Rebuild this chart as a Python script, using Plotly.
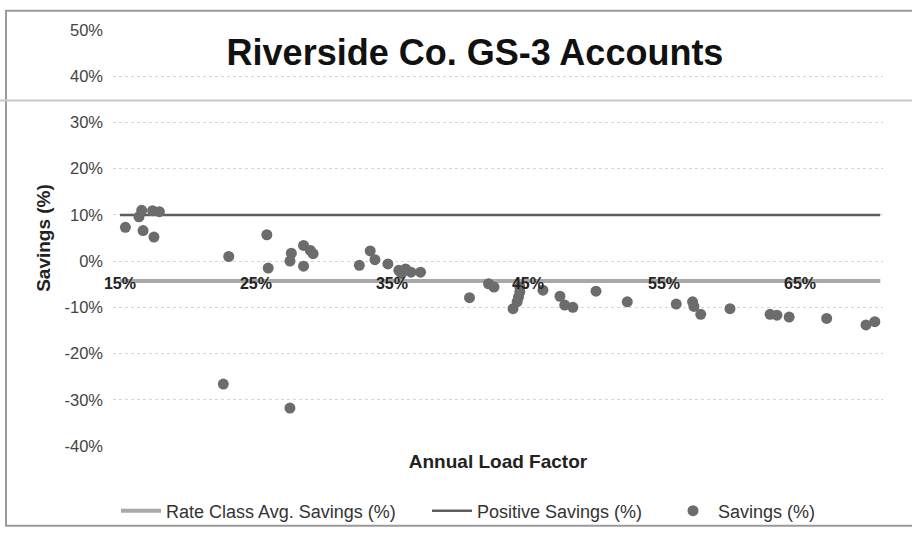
import plotly.graph_objects as go

# ---- data (percent values) ----
load_factor = [15.4, 16.4, 16.6, 16.7, 17.4, 17.5, 17.9,
               22.6, 23.0, 25.8, 25.9,
               27.5, 27.5, 27.6, 28.5, 28.5, 29.0, 29.2,
               32.6, 33.4, 33.75, 34.7,
               35.5, 35.7, 36.0, 36.4, 37.1,
               40.7, 42.1, 42.5,
               43.9, 44.2, 44.3, 44.4, 44.4,
               46.1, 47.35, 47.7, 48.3,
               50.0, 52.3, 55.9, 57.1, 57.2, 57.7,
               59.85, 62.8, 63.3, 64.2, 66.96, 69.85, 70.5]
savings = [7.3, 9.6, 11.0, 6.6, 10.9, 5.2, 10.7,
           -26.6, 1.0, 5.7, -1.5,
           0.0, -31.8, 1.7, -1.1, 3.4, 2.3, 1.6,
           -0.9, 2.2, 0.3, -0.6,
           -2.0, -2.7, -1.7, -2.4, -2.4,
           -7.9, -4.9, -5.6,
           -10.3, -8.8, -7.8, -6.7, -5.6,
           -6.3, -7.6, -9.5, -10.0,
           -6.5, -8.8, -9.3, -8.8, -9.8, -11.5,
           -10.3, -11.5, -11.7, -12.1, -12.4, -13.8, -13.1]

line_x = [15.0, 70.9]
rate_class_avg = [-4.3, -4.3]
positive_savings = [10.0, 10.0]

x_ticks = [15, 25, 35, 45, 55, 65]
x_tick_labels = ["15%", "25%", "35%", "45%", "55%", "65%"]
y_ticks = [-40, -30, -20, -10, 0, 10, 20, 30, 40, 50]
y_tick_labels = ["-40%", "-30%", "-20%", "-10%", "0%", "10%", "20%", "30%", "40%", "50%"]

FONT = "Liberation Sans, Arial, sans-serif"

W, H = 912, 541
K = 0.985  # observed vertical ratio between photo and figure pixels


def fy(screen_y):  # target photo y -> figure pixel y
    return screen_y / K


# target plot area in the photo: x 113..883, y 30..451
L, T = 113, round(fy(30))
R, B = W - 883, H - round(fy(451))
PW, PH = W - L - R, H - T - B


def sx(p):  # photo x pixel -> paper
    return (p - L) / PW


def sy(p):  # photo y pixel -> paper
    return (H - B - fy(p)) / PH


fig = go.Figure()
fig.add_trace(go.Scatter(
    x=line_x, y=rate_class_avg, mode="lines", name="Rate Class Avg. Savings (%)",
    line=dict(color="#a8a8a8", width=4), legend="legend"))
fig.add_trace(go.Scatter(
    x=line_x, y=positive_savings, mode="lines", name="Positive Savings (%)",
    line=dict(color="#5e5e5e", width=2.5), legend="legend2"))
fig.add_trace(go.Scatter(
    x=load_factor, y=savings, mode="markers", name="Savings (%)",
    marker=dict(color="#6c6c6c", size=11), legend="legend3"))

legend_common = dict(orientation="h", yanchor="middle", y=sy(517), xanchor="left",
                     font=dict(family=FONT, size=18, color="#333333"),
                     bgcolor="rgba(0,0,0,0)", itemwidth=40)

fig.update_layout(
    width=W, height=H,
    margin=dict(l=L, r=R, t=T, b=B),
    paper_bgcolor="white", plot_bgcolor="white",
    font=dict(family=FONT, color="#333333"),
    title=dict(text="<b>Riverside Co. GS-3 Accounts</b>",
               font=dict(family=FONT, size=36, color="#111111"),
               x=sx(475), xref="paper", xanchor="center",
               y=1 - fy(52) / H, yref="container", yanchor="middle"),
    xaxis=dict(range=[14.49, 71.1], showgrid=False, zeroline=False, showline=False,
               showticklabels=False, ticks="",
               title=dict(text="<b>Annual Load Factor</b>", standoff=8,
                          font=dict(family=FONT, size=19, color="#222222"))),
    xaxis2=dict(overlaying="x", matches="x", anchor="free", position=sy(275),
                tickvals=x_ticks, ticktext=x_tick_labels, ticks="",
                showgrid=False, zeroline=False, showline=False,
                tickfont=dict(family=FONT, size=16, color="#222222", weight="bold")),
    yaxis=dict(range=[-40, 50], tickvals=y_ticks, ticktext=y_tick_labels, ticks="",
               showgrid=True, gridcolor="#d6d6d6", griddash="dot", gridwidth=1,
               zeroline=False, showline=False, ticklabelstandoff=9,
               tickfont=dict(family=FONT, size=16.5, color="#444444"),
               title=dict(text="<b>Savings (%)</b>", standoff=8,
                          font=dict(family=FONT, size=19, color="#222222"))),
    legend=dict(legend_common, x=sx(116)),
    legend2=dict(legend_common, x=sx(427)),
    legend3=dict(legend_common, x=sx(668)),
    shapes=[
        dict(type="rect", xref="paper", yref="paper",
             x0=sx(6), x1=sx(940), y0=sy(532), y1=sy(10),
             line=dict(color="#9a9a9a", width=2), layer="below"),
        dict(type="line", xref="paper", yref="paper",
             x0=sx(0), x1=sx(912), y0=sy(101), y1=sy(101),
             line=dict(color="#c8c8c8", width=2), layer="below"),
    ],
)

# dummy trace so xaxis2 is drawn
fig.add_trace(go.Scatter(x=[None], y=[None], xaxis="x2", showlegend=False, hoverinfo="skip"))

# remove the default 8px page margin so the figure starts at the window's corner
fig.write_html("out.html", config={"displayModeBar": False},
               post_script="document.body.style.margin='0';document.body.style.overflow='hidden';")
